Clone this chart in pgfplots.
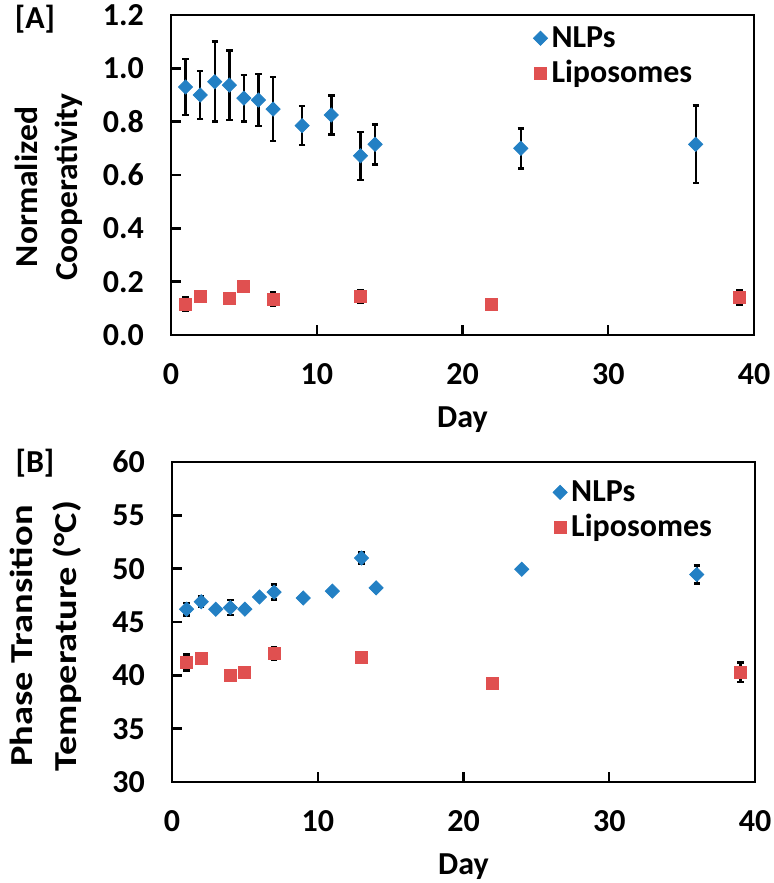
\documentclass[border=0pt]{standalone}
\usepackage{fontspec}
\setmainfont{Carlito}
\usepackage{pgfplots}
\pgfplotsset{compat=1.18}
\definecolor{nlpblue}{RGB}{35,128,196}
\definecolor{lipored}{RGB}{224,80,80}

\newcommand{\bigfont}{\fontsize{16}{20}\selectfont\bfseries}

\pgfplotsset{
  panel/.style={
    scale only axis, width=291.5pt, height=160pt,
    xmin=0, xmax=40, xtick={0,10,...,40},
    axis line style={line width=1.2pt},
    every tick/.style={line width=1.2pt, black},
    major tick length=5pt,
    tick align=inside, xtick pos=bottom, ytick pos=left,
    tick label style={font=\bigfont},
    /pgf/number format/assume math mode=true,
    xticklabel style={yshift=-10.5pt},
    yticklabel style={xshift=-10pt},
    label style={font=\bigfont},
    xlabel={Day},
    xlabel style={yshift=-4.5pt},
    clip=false,
    legend cell align=left,
    legend image code/.code={\draw[##1] plot coordinates {(3pt,0pt)};},
    legend style={draw=none, fill=none, font=\bigfont, row sep=1pt,
      inner sep=0pt, anchor=north west},
  },
  ebar/.style={error bars/.cd, y dir=both, y explicit,
    error bar style={line width=1.2pt, black},
    error mark options={line width=1.2pt, mark size=1.6pt, rotate=90, black}},
  nlp/.style={only marks, mark=square*, mark size=2.5pt,
    mark options={rotate=45, draw=nlpblue, fill=nlpblue}, ebar},
  lipo/.style={only marks, mark=square*, mark size=3pt,
    mark options={draw=lipored, fill=lipored}, ebar},
}

\begin{document}
\begin{tikzpicture}
\useasboundingbox (0,0) rectangle (386.5pt,-441.5pt);

\node[font=\bigfont] at (17.5pt,-9.5pt) {[A]};
\node[font=\bigfont] at (17.5pt,-231.5pt) {[B]};

% panel A
\begin{axis}[panel, at={(85.5pt,-7.5pt)}, anchor=north west,
  ymin=0, ymax=1.2, ytick={0,0.2,...,1.2},
  yticklabel style={/pgf/number format/.cd, fixed, fixed zerofill, precision=1},
  legend style={at={(rel axis cs:0.621,0.978)}}]
  \addplot[nlp] coordinates {
    (1,0.93) +- (0,0.105)
    (2,0.90) +- (0,0.09)
    (3,0.95) +- (0,0.15)
    (4,0.937) +- (0,0.13)
    (5,0.888) +- (0,0.088)
    (6,0.881) +- (0,0.097)
    (7,0.847) +- (0,0.12)
    (9,0.785) +- (0,0.073)
    (11,0.825) +- (0,0.073)
    (13,0.672) +- (0,0.09)
    (14,0.715) +- (0,0.075)
    (24,0.70) +- (0,0.075)
    (36,0.715) +- (0,0.145)
  };
  \addplot[lipo] coordinates {
    (1,0.116) +- (0,0.027)
    (2,0.144) +- (0,0.008)
    (4,0.136) +- (0,0.008)
    (5,0.181) +- (0,0.01)
    (7,0.134) +- (0,0.025)
    (13,0.144) +- (0,0.025)
    (22,0.115) +- (0,0.006)
    (39,0.14) +- (0,0.028)
  };
  \legend{NLPs, Liposomes}
  \node[xshift=-44pt, yshift=-6pt, rotate=90, xscale=1.05, anchor=south,
    align=center, inner sep=0pt, font=\bigfont]
    at (rel axis cs:0,0.5) {Normalized\\Cooperativity};
\end{axis}

% panel B
\begin{axis}[panel, at={(86pt,-231pt)}, anchor=north west,
  ymin=30, ymax=60, ytick={30,35,...,60},
  legend style={at={(rel axis cs:0.653,0.956)}}]
  \addplot[nlp] coordinates {
    (1,46.2) +- (0,0.6)
    (2,46.9) +- (0,0.5)
    (3,46.2) +- (0,0.2)
    (4,46.35) +- (0,0.7)
    (5,46.2) +- (0,0.2)
    (6,47.35) +- (0,0.2)
    (7,47.8) +- (0,0.7)
    (9,47.25) +- (0,0.2)
    (11,47.9) +- (0,0.2)
    (13,51.0) +- (0,0.5)
    (14,48.2) +- (0,0.2)
    (24,49.95) +- (0,0.2)
    (36,49.45) +- (0,0.85)
  };
  \addplot[lipo] coordinates {
    (1,41.2) +- (0,0.75)
    (2,41.55) +- (0,0.2)
    (4,39.95) +- (0,0.2)
    (5,40.3) +- (0,0.2)
    (7,42.05) +- (0,0.6)
    (13,41.7) +- (0,0.35)
    (22,39.2) +- (0,0.3)
    (39,40.3) +- (0,0.9)
  };
  \legend{NLPs, Liposomes}
  \node[xshift=-45pt, yshift=-7pt, rotate=90, xscale=1.2, anchor=south,
    align=center, inner sep=0pt, font=\fontsize{16}{22}\selectfont\bfseries]
    at (rel axis cs:0,0.5) {Phase Transition\\Temperature (°C)};
\end{axis}
\end{tikzpicture}
\end{document}
